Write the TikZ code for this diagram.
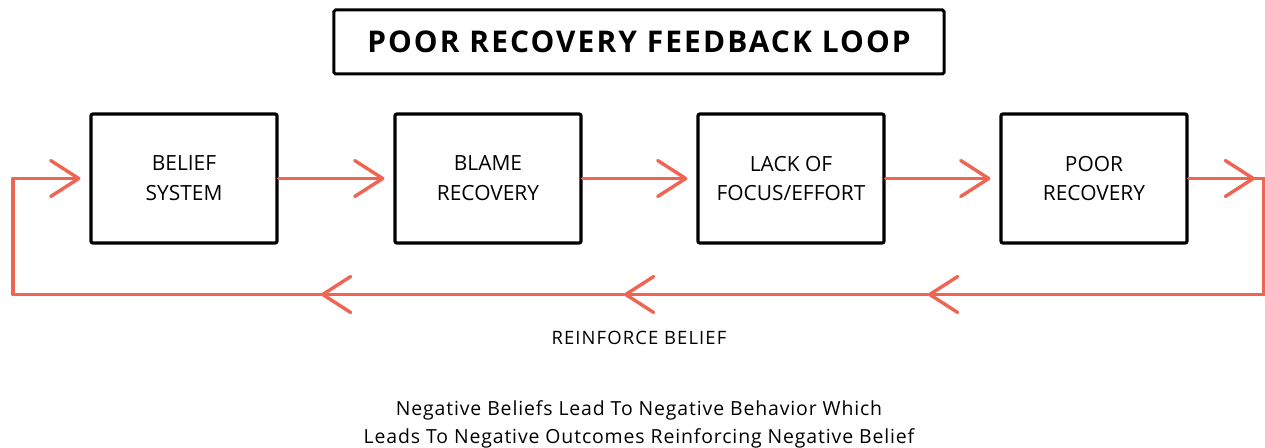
\documentclass[tikz,border=0pt]{standalone}
\usepackage{fontspec}
\setmainfont{Open Sans}
\newfontfamily\titlefont[LetterSpace=7]{Open Sans}
\newfontfamily\tracked[LetterSpace=6]{Open Sans}
\newfontfamily\trackedsmall[LetterSpace=4.5]{Open Sans}
\usetikzlibrary{arrows.meta}
\definecolor{loopred}{RGB}{240,100,82}
\tikzset{
  stagebox/.style={draw=black, line width=3.2bp, rounded corners=2bp, minimum width=186bp, minimum height=129bp, align=center, font=\fontsize{21}{30}\selectfont, inner sep=0pt},
  titlebox/.style={draw=black, line width=3bp, rounded corners=1.5bp, minimum width=610bp, minimum height=64bp, font=\titlefont\fontsize{30}{36}\selectfont\bfseries, inner sep=0pt},
  redline/.style={draw=loopred, line width=3.4bp, line cap=round, line join=round},
  barb/.style={-{Straight Barb[length=28bp, width=36bp, line cap=round, line join=round]}},
  note/.style={align=center, inner sep=0pt}
}
\begin{document}
\begin{tikzpicture}[x=1bp, y=-1bp]
\useasboundingbox (0,0) rectangle (1265,448);
\node[titlebox] (title) at (639,42) {POOR RECOVERY FEEDBACK LOOP};
\node[stagebox] (b1) at (184,178.5) {BELIEF\\SYSTEM};
\node[stagebox] (b2) at (488,178.5) {BLAME\\RECOVERY};
\node[stagebox] (b3) at (791,178.5) {LACK OF\\FOCUS/EFFORT};
\node[stagebox] (b4) at (1094,178.5) {POOR\\RECOVERY};
\coordinate (tipR) at (1255,178.5);
\coordinate (cR) at (1264,178.5);
\coordinate (cRb) at (1264,294.5);
\coordinate (m3) at (928,294.5);
\coordinate (m2) at (624,294.5);
\coordinate (m1) at (321,294.5);
\coordinate (cLb) at (13,294.5);
\coordinate (cL) at (13,178.5);
\draw[redline, barb, shorten >=9bp] (b1.east) -- (b2.west);
\draw[redline, barb, shorten >=9bp] (b2.east) -- (b3.west);
\draw[redline, barb, shorten >=9bp] (b3.east) -- (b4.west);
\draw[redline, barb] (b4.east) -- (tipR);
\draw[redline] (tipR) -- (cR) -- (cRb);
\draw[redline, barb] (cRb) -- (m3);
\draw[redline, barb] (m3) -- (m2);
\draw[redline, barb] (m2) -- (m1);
\draw[redline, barb, shorten >=9bp] (m1) -- (cLb) -- (cL) -- (b1.west);
\node[note, font=\tracked\fontsize{18.5}{24}\selectfont] (reinforce) at (639,338) {REINFORCE BELIEF};
\node[note, font=\trackedsmall\fontsize{19.5}{28}\selectfont] (summary) at (639,424) {Negative Beliefs Lead To Negative Behavior Which\\Leads To Negative Outcomes Reinforcing Negative Belief};
\end{tikzpicture}
\end{document}
